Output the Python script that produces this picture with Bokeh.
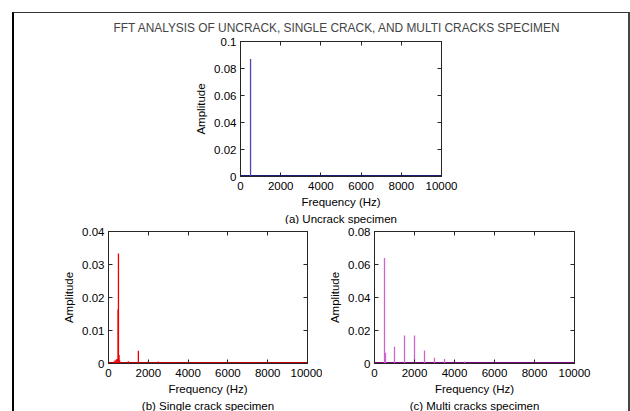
from bokeh.plotting import figure
from bokeh.models import Range1d, FixedTicker, LinearAxis, Title
from bokeh.layouts import column, row
from bokeh.embed import file_html
from bokeh.resources import INLINE

# ---------------- data ----------------
title_text = "FFT ANALYSIS OF UNCRACK, SINGLE CRACK, AND MULTI CRACKS SPECIMEN"
x_label = "Frequency (Hz)"
y_label = "Amplitude"
subtitles = ["(a) Uncrack specimen", "(b) Single crack specimen", "(c) Multi cracks specimen"]

freq_ticks = [0, 2000, 4000, 6000, 8000, 10000]
freq_tick_labels = ["0", "2000", "4000", "6000", "8000", "10000"]

amp_ticks_a = [0, 0.02, 0.04, 0.06, 0.08, 0.1]
amp_tick_labels_a = ["0", "0.02", "0.04", "0.06", "0.08", "0.1"]
amp_ticks_b = [0, 0.01, 0.02, 0.03, 0.04]
amp_tick_labels_b = ["0", "0.01", "0.02", "0.03", "0.04"]
amp_ticks_c = [0, 0.02, 0.04, 0.06, 0.08]
amp_tick_labels_c = ["0", "0.02", "0.04", "0.06", "0.08"]

# spectral peaks (Hz, amplitude)
uncrack_freq = [500]
uncrack_amp = [0.087]

single_freq = [260, 320, 380, 420, 460, 480, 500, 530, 560, 1000, 1500, 2000, 2500]
single_amp = [0.0005, 0.0009, 0.0011, 0.0014, 0.0012, 0.0164, 0.0333, 0.0026, 0.0009,
              0.0007, 0.0039, 0.0006, 0.0006]

multi_freq = [500, 550, 1000, 1500, 2000, 2500, 3000, 3500, 4000, 4500]
multi_amp = [0.064, 0.0065, 0.0102, 0.0169, 0.0169, 0.0079, 0.0035, 0.0028, 0.0016, 0.0012]

# noise floor of each spectrum
floor_freq = [0, 10000]
floor_amp = [0, 0]

FONT = "Liberation Sans"
FS = "11.5px"
AXC = "#262626"


def style_axis(ax, ticks, labels, show_labels=True):
    ax.ticker = FixedTicker(ticks=ticks)
    ax.axis_line_color = AXC
    ax.major_tick_line_color = AXC
    ax.major_tick_in = 4
    ax.major_tick_out = 0
    ax.minor_tick_line_color = None
    ax.major_label_text_font = FONT
    ax.major_label_text_font_size = FS
    ax.major_label_text_color = "black"
    ax.axis_label_text_font = FONT
    ax.axis_label_text_font_size = FS
    ax.axis_label_text_font_style = "normal"
    ax.axis_label_text_color = "black"
    if show_labels:
        ax.major_label_overrides = {t: l for t, l in zip(ticks, labels)}
    else:
        ax.major_label_overrides = {t: "" for t in ticks}
        ax.major_label_text_font_size = "0px"
        ax.major_label_standoff = 0


def panel(width, height, ml, mr, mt, mb, ymax, yticks, ylabels,
          freqs, amps, spike_color, floor_color, subtitle, with_title=False):
    p = figure(width=width, height=height,
               x_range=Range1d(0, 10000), y_range=Range1d(0, ymax),
               output_backend="svg", toolbar_location=None,
               min_border_left=ml, min_border_right=mr,
               min_border_top=mt, min_border_bottom=mb,
               background_fill_color="white", border_fill_color="white",
               outline_line_color=AXC)
    p.grid.visible = False
    if with_title:
        p.title.text = title_text
        p.title.text_font = FONT
        p.title.text_font_size = "11.9px"
        p.title.text_font_style = "normal"
        p.title.align = "left"
        p.title.vertical_align = "top"
        p.title.offset = -127
        p.title.standoff = 10

    style_axis(p.xaxis[0], freq_ticks, freq_tick_labels)
    style_axis(p.yaxis[0], yticks, ylabels)
    p.xaxis[0].axis_label = x_label
    p.yaxis[0].axis_label = y_label
    p.xaxis[0].major_label_standoff = 5
    p.xaxis[0].axis_label_standoff = 3
    p.yaxis[0].major_label_standoff = 4
    p.yaxis[0].axis_label_standoff = 4

    top_ax = LinearAxis()
    style_axis(top_ax, freq_ticks, freq_tick_labels, show_labels=False)
    p.add_layout(top_ax, "above")
    right_ax = LinearAxis()
    style_axis(right_ax, yticks, ylabels, show_labels=False)
    p.add_layout(right_ax, "right")

    p.line(floor_freq, floor_amp, line_color=floor_color, line_width=3)
    p.segment(x0=freqs, y0=[0] * len(freqs), x1=freqs, y1=amps,
              line_color=spike_color, line_width=1.3)

    p.add_layout(Title(text=subtitle, align="center", text_font=FONT,
                       text_font_size=FS, text_font_style="normal",
                       text_color="black", standoff=0), "below")
    return p


top = panel(614, 211, 226, 187, 28, 48, 0.1, amp_ticks_a, amp_tick_labels_a,
            uncrack_freq, uncrack_amp, "#4b4bae", "#1c1c78", subtitles[0],
            with_title=True)
bl = panel(308, 187, 94, 15, 7, 46, 0.04, amp_ticks_b, amp_tick_labels_b,
           single_freq, single_amp, "#ee0000", "#c00000", subtitles[1])
br = panel(306, 187, 52, 54, 5, 47, 0.08, amp_ticks_c, amp_tick_labels_c,
           multi_freq, multi_amp, "#cc66cc", "#800080", subtitles[2])

layout = column(top, row(bl, br),
                styles={"margin-left": "12px", "margin-top": "12px",
                        "border-left": "2px solid #000000",
                        "border-top": "1px solid #333333",
                        "border-right": "2px solid #444444"})

open("out.html", "w").write(file_html(layout, INLINE))
